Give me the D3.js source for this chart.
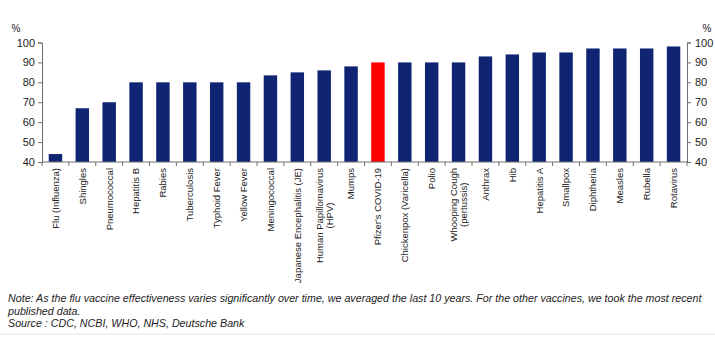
<!DOCTYPE html>
<html>
<head>
<meta charset="utf-8">
<script src="https://cdn.jsdelivr.net/npm/d3@7"></script>
<style>
  body { margin: 0; background: #fff; }
  svg { display: block; }
</style>
</head>
<body>
<script>
// vaccine names (two-line labels split with "|")
const vaccines = ["Flu (Influenza)", "Shingles", "Pneumococcal", "Hepatitis B", "Rabies",
    "Tuberculosis", "Typhoid Fever", "Yellow Fever", "Meningococcal", "Japanese Encephalitis (JE)",
    "Human Papillomavirus|(HPV)", "Mumps", "Pfizer's COVID-19", "Chickenpox (Varicella)", "Polio",
    "Whooping Cough|(pertussis)", "Anthrax", "Hib", "Hepatitis A", "Smallpox",
    "Diphtheria", "Measles", "Rubella", "Rotavirus"];
const efficacy = [44, 67, 70, 80, 80, 80, 80, 80, 83.5, 85, 86, 88, 90, 90, 90, 90, 93, 94, 95, 95, 97, 97, 97, 98];
const highlight = "Pfizer's COVID-19";
const yTicks = [40, 50, 60, 70, 80, 90, 100];
const noteLines = [
    "Note: As the flu vaccine effectiveness varies significantly over time, we averaged the last 10 years. For the other vaccines, we took the most recent",
    "published data.",
    "Source : CDC, NCBI, WHO, NHS, Deutsche Bank"
];

const W = 715, H = 340;
const plotLeft = 42, plotRight = 687, plotTop = 42.5, plotBottom = 162;

const svg = d3.select("body").append("svg")
    .attr("width", W)
    .attr("height", H)
    .style("font-family", "'Liberation Sans', Arial, sans-serif");

const x = d3.scaleBand()
    .domain(vaccines)
    .range([plotLeft, plotRight])
    .paddingInner(0.5)
    .paddingOuter(0.25);

const y = d3.scaleLinear()
    .domain([40, 100])
    .range([plotBottom, plotTop]);

const axisColor = "#6e6e6e";

// bars
svg.selectAll(".bar")
    .data(vaccines)
    .enter().append("rect")
    .attr("class", "bar")
    .attr("x", d => x(d))
    .attr("width", x.bandwidth())
    .attr("y", (d, i) => y(efficacy[i]))
    .attr("height", (d, i) => y(40) - y(efficacy[i]))
    .attr("fill", d => d === highlight ? "#ff0000" : "#0f2573");

// left axis
const yl = svg.append("g")
    .attr("transform", "translate(" + plotLeft + ",0)")
    .call(d3.axisLeft(y).tickValues(yTicks).tickSize(4).tickSizeOuter(4));
// right axis
const yr = svg.append("g")
    .attr("transform", "translate(" + plotRight + ",0)")
    .call(d3.axisRight(y).tickValues(yTicks).tickSize(4).tickSizeOuter(4));

[yl, yr].forEach(g => {
    g.select(".domain").attr("stroke", axisColor);
    g.selectAll(".tick line").attr("stroke", axisColor);
    g.selectAll(".tick text").attr("font-size", 11).attr("fill", "#222")
        .attr("font-family", "'Liberation Sans', Arial, sans-serif");
});
yl.selectAll(".tick text").attr("x", -7);
yr.selectAll(".tick text").attr("x", 8);

// bottom axis line with ticks at category boundaries
const step = x.step();
const boundaries = d3.range(vaccines.length + 1).map(i => plotLeft + i * step);
svg.append("line")
    .attr("x1", plotLeft).attr("x2", plotRight)
    .attr("y1", plotBottom).attr("y2", plotBottom)
    .attr("stroke", axisColor);
svg.selectAll(".xtick")
    .data(boundaries)
    .enter().append("line")
    .attr("class", "xtick")
    .attr("x1", d => d).attr("x2", d => d)
    .attr("y1", plotBottom).attr("y2", plotBottom + 4)
    .attr("stroke", axisColor);

// rotated category labels
const labelTop = plotBottom + 6;
vaccines.forEach(v => {
    const lines = v.split("|");
    const cx = x(v) + x.bandwidth() / 2;
    const g = svg.append("g")
        .attr("transform", "translate(" + cx + ",0) rotate(-90)");
    const texts = lines.map((t, j) => g.append("text")
        .text(t)
        .attr("text-anchor", "middle")
        .attr("font-size", 9.5)
        .attr("fill", "#222")
        .attr("y", (j - (lines.length - 1) / 2) * 10)
        .attr("dy", "0.35em"));
    const L = d3.max(texts, t => t.node().getComputedTextLength());
    texts.forEach(t => t.attr("x", -(labelTop + L / 2)));
});

// % units
svg.append("text").text("%").attr("x", 16).attr("y", 32)
    .attr("font-size", 10).attr("text-anchor", "middle").attr("fill", "#222");
svg.append("text").text("%").attr("x", 707).attr("y", 32)
    .attr("font-size", 10).attr("text-anchor", "middle").attr("fill", "#222");

// notes
svg.selectAll(".note")
    .data(noteLines)
    .enter().append("text")
    .attr("class", "note")
    .attr("x", 8)
    .attr("y", (d, i) => 302 + i * 12.5)
    .attr("font-size", 10.7)
    .attr("font-style", "italic")
    .attr("fill", "#222")
    .style("font-family", "'Liberation Sans Narrow', 'Arial Narrow', 'Liberation Sans', sans-serif")
    .text(d => d);

// faint separator at bottom
svg.append("line")
    .attr("x1", 0).attr("x2", W)
    .attr("y1", 334).attr("y2", 334)
    .attr("stroke", "#e6e6e6");
</script>
</body>
</html>
